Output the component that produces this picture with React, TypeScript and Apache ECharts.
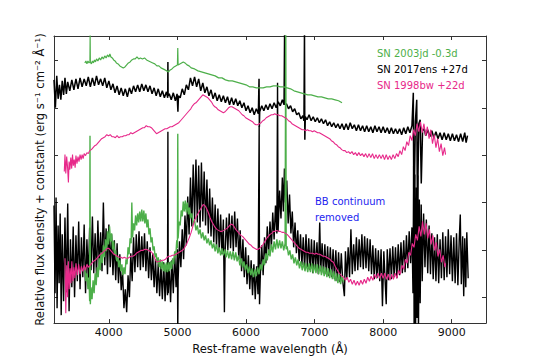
import React, { useEffect, useRef } from "react";
import * as echarts from "echarts";

// Wavelength (Å) and relative flux (arbitrary units + constant)
const greenTop: number[][] = [[3650,26.1],[3665,26.3],[3680,26.0],[3695,26.3],[3710,26.1],[3724,26.2],[3727,28.9],[3730,26.2],[3745,26.0],[3760,26.3],[3775,26.1],[3790,26.4],[3805,26.2],[3820,26.5],[3840,26.3],[3860,26.6],[3880,26.4],[3900,26.7],[3920,26.5],[3940,26.8],[3960,26.6],[3980,26.9],[4000,26.7],[4015,27.0],[4030,26.7],[4050,26.6],[4070,26.4],[4090,26.3],[4110,26.1],[4135,26.0],[4160,25.8],[4185,25.7],[4210,25.6],[4235,25.7],[4260,25.9],[4285,26.1],[4310,26.2],[4335,26.4],[4360,26.5],[4385,26.5],[4410,26.7],[4435,26.5],[4460,26.6],[4490,26.5],[4520,26.6],[4550,26.4],[4580,26.3],[4610,26.2],[4640,26.1],[4670,26.0],[4700,25.8],[4730,25.8],[4760,25.6],[4790,25.5],[4820,25.4],[4845,25.3],[4870,25.2],[4895,25.4],[4920,25.5],[4950,25.7],[4975,25.8],[5000,25.9],[5005,27.6],[5010,25.9],[5035,26.0],[5060,26.1],[5085,26.2],[5110,26.1],[5140,25.9],[5170,25.8],[5200,25.6],[5250,25.5],[5300,25.3],[5350,25.2],[5400,25.1],[5450,25.0],[5500,24.9],[5550,24.8],[5600,24.6],[5650,24.6],[5700,24.4],[5750,24.3],[5800,24.3],[5850,24.2],[5900,24.1],[5950,24.0],[6000,23.9],[6050,23.7],[6100,23.7],[6150,23.6],[6200,23.6],[6250,23.6],[6300,23.7],[6350,23.7],[6400,23.8],[6450,23.8],[6500,23.7],[6550,23.7],[6600,23.6],[6650,23.5],[6700,23.3],[6750,23.2],[6800,23.1],[6850,23.0],[6900,22.9],[6950,22.9],[7000,22.8],[7050,22.7],[7100,22.7],[7150,22.6],[7200,22.5],[7250,22.5],[7300,22.4],[7350,22.3],[7400,22.1]];

const blackTop: number[][] = [[3200,24.4],[3220,21.6],[3240,24.8],[3260,22.5],[3280,23.9],[3300,22.4],[3320,24.3],[3340,22.9],[3360,24.6],[3380,23.0],[3400,24.2],[3430,23.3],[3460,24.4],[3490,23.4],[3520,24.5],[3550,23.5],[3580,24.6],[3610,23.7],[3640,24.5],[3670,23.8],[3700,24.7],[3730,23.7],[3760,24.6],[3790,23.8],[3820,24.8],[3850,23.9],[3880,24.5],[3910,23.8],[3940,24.6],[3970,23.6],[4000,24.3],[4030,23.4],[4060,24.0],[4090,23.1],[4120,23.8],[4150,22.9],[4180,23.6],[4210,22.8],[4240,23.5],[4270,22.7],[4300,23.6],[4330,23.0],[4360,23.8],[4390,23.2],[4420,23.9],[4450,23.2],[4480,24.0],[4510,23.3],[4540,23.9],[4570,23.2],[4600,23.8],[4630,23.0],[4660,23.6],[4690,22.8],[4720,23.5],[4750,22.7],[4780,23.3],[4810,22.6],[4840,23.2],[4858,22.6],[4861,26.2],[4864,22.8],[4880,23.0],[4910,22.4],[4940,23.1],[4970,22.3],[4995,23.0],[5007,21.2],[5015,22.8],[5040,22.6],[5070,23.5],[5100,22.9],[5130,23.9],[5160,23.4],[5190,24.6],[5220,23.8],[5250,24.7],[5280,23.7],[5310,24.5],[5340,23.3],[5370,24.1],[5400,23.1],[5430,23.7],[5460,22.8],[5490,23.4],[5520,22.5],[5550,23.1],[5580,22.3],[5610,22.9],[5640,22.2],[5670,22.8],[5700,22.1],[5730,22.7],[5760,21.9],[5790,22.6],[5820,21.9],[5850,22.5],[5880,21.8],[5910,22.3],[5940,21.6],[5970,22.1],[6000,21.3],[6030,21.8],[6060,21.1],[6090,21.6],[6120,20.9],[6150,21.5],[6180,21.0],[6190,24.5],[6195,19.7],[6200,21.2],[6230,21.8],[6260,21.3],[6290,21.9],[6320,21.4],[6350,22.0],[6380,21.5],[6410,22.1],[6440,21.6],[6470,22.2],[6500,21.8],[6530,22.4],[6555,21.9],[6563,29.5],[6570,21.9],[6590,22.0],[6620,21.5],[6650,21.8],[6680,21.2],[6710,21.5],[6740,20.9],[6770,21.1],[6800,20.5],[6830,20.8],[6845,20.3],[6853,29.5],[6858,18.4],[6865,20.7],[6890,20.4],[6920,20.9],[6950,20.3],[6980,20.7],[7010,20.2],[7040,20.6],[7070,20.1],[7100,20.5],[7130,20.0],[7160,20.4],[7190,19.8],[7220,20.2],[7250,19.7],[7280,20.1],[7310,19.6],[7340,20.0],[7370,19.5],[7400,20.0],[7430,19.4],[7460,20.0],[7490,19.4],[7520,20.1],[7550,19.5],[7580,19.9],[7610,19.3],[7640,19.9],[7670,19.3],[7700,19.8],[7730,19.2],[7760,19.8],[7790,19.2],[7820,19.7],[7850,19.1],[7880,19.8],[7910,19.2],[7940,19.7],[7970,19.1],[8000,19.7],[8030,19.1],[8060,19.6],[8090,19.0],[8120,19.6],[8150,19.0],[8180,19.5],[8210,19.0],[8240,19.5],[8270,18.9],[8300,19.6],[8330,19.0],[8360,19.7],[8390,19.1],[8420,19.8],[8440,23.1],[8448,10.0],[8470,20.2],[8490,22.4],[8500,11.0],[8520,20.0],[8540,20.4],[8556,14.0],[8575,19.3],[8600,19.5],[8620,18.8],[8650,19.4],[8680,18.7],[8710,19.3],[8740,18.6],[8770,19.2],[8800,18.5],[8830,19.1],[8860,18.4],[8890,19.1],[8920,18.4],[8950,19.0],[8980,18.3],[9010,19.0],[9040,18.3],[9070,18.9],[9100,18.2],[9130,19.0],[9160,18.2],[9190,19.1],[9210,18.1],[9230,18.8]];

const pinkTop: number[][] = [[3350,15.2],[3360,16.9],[3372,15.0],[3385,16.7],[3398,15.6],[3410,14.1],[3420,16.2],[3432,15.4],[3445,16.6],[3458,15.5],[3470,16.9],[3482,15.8],[3495,16.4],[3508,15.6],[3520,16.8],[3535,16.0],[3550,16.7],[3565,16.2],[3580,16.9],[3595,16.4],[3610,16.9],[3625,16.5],[3640,17.0],[3660,16.8],[3680,17.1],[3700,17.0],[3720,17.3],[3745,17.4],[3770,17.6],[3795,17.8],[3820,17.9],[3845,18.1],[3870,18.3],[3895,18.5],[3920,18.6],[3945,18.7],[3970,18.9],[3995,18.8],[4020,18.9],[4045,18.7],[4070,18.7],[4095,18.6],[4120,18.8],[4145,18.6],[4170,18.7],[4195,18.7],[4220,18.8],[4245,18.8],[4270,18.9],[4295,18.9],[4320,19.1],[4345,19.0],[4370,19.1],[4395,19.2],[4420,19.3],[4445,19.4],[4470,19.5],[4495,19.6],[4520,19.6],[4545,19.8],[4570,19.7],[4595,19.7],[4620,19.6],[4645,19.4],[4670,19.2],[4695,19.0],[4720,19.1],[4745,19.2],[4770,19.3],[4795,19.4],[4820,19.5],[4845,19.5],[4870,19.6],[4895,19.7],[4920,19.7],[4945,19.8],[4970,19.9],[4995,20.0],[5020,20.1],[5045,20.3],[5070,20.5],[5095,20.7],[5120,20.9],[5145,21.1],[5170,21.3],[5195,21.5],[5220,21.8],[5245,22.0],[5270,22.1],[5295,22.3],[5320,22.5],[5345,22.7],[5370,22.9],[5395,22.8],[5420,22.7],[5445,22.6],[5470,22.4],[5495,22.2],[5520,21.9],[5545,21.7],[5570,21.6],[5595,21.4],[5620,21.3],[5645,21.2],[5670,21.1],[5695,21.2],[5720,21.4],[5745,21.6],[5770,21.7],[5795,21.7],[5820,21.6],[5845,21.5],[5870,21.4],[5895,21.3],[5920,21.1],[5945,20.9],[5970,20.8],[5995,20.6],[6020,20.5],[6045,20.4],[6070,20.3],[6095,20.2],[6120,20.0],[6145,19.9],[6170,19.9],[6195,20.0],[6220,20.1],[6245,20.3],[6270,20.4],[6295,20.6],[6320,20.7],[6345,20.8],[6370,20.9],[6395,20.9],[6420,21.0],[6445,20.9],[6470,20.9],[6495,20.8],[6520,20.8],[6545,20.7],[6570,20.6],[6595,20.5],[6620,20.3],[6645,20.2],[6670,20.0],[6695,19.9],[6720,19.8],[6745,19.7],[6770,19.6],[6795,19.5],[6820,19.4],[6845,19.4],[6870,19.3],[6895,19.4],[6920,19.3],[6945,19.3],[6970,19.2],[6995,19.3],[7020,19.2],[7045,19.1],[7070,19.1],[7095,19.0],[7120,18.9],[7145,18.8],[7170,18.7],[7195,18.6],[7220,18.5],[7245,18.3],[7270,18.2],[7295,18.0],[7320,17.9],[7345,17.7],[7370,17.6],[7395,17.4],[7420,17.3],[7445,17.3],[7470,17.1],[7495,17.2],[7520,17.0],[7545,17.2],[7570,16.9],[7595,17.1],[7620,16.8],[7645,17.1],[7670,16.8],[7695,17.0],[7720,16.7],[7745,17.0],[7770,16.6],[7795,17.0],[7820,16.6],[7845,17.0],[7870,16.5],[7895,16.9],[7920,16.5],[7945,16.9],[7970,16.5],[7995,16.9],[8020,16.4],[8045,16.9],[8070,16.4],[8095,16.8],[8120,16.4],[8145,16.9],[8170,16.5],[8195,17.0],[8220,16.7],[8245,17.3],[8270,16.9],[8295,17.7],[8320,17.3],[8345,18.2],[8370,17.8],[8395,18.8],[8420,18.3],[8445,19.4],[8470,18.8],[8495,20.0],[8520,19.2],[8545,20.2],[8570,19.1],[8595,20.0],[8620,18.8],[8645,19.7],[8670,18.5],[8695,19.4],[8720,18.0],[8745,18.9],[8770,17.6],[8795,18.5],[8820,17.2],[8845,18.0],[8870,16.8],[8895,17.6],[8910,16.9]];

const blackBottom: number[][] = [[3200,11.8],[3215,3.0],[3230,12.6],[3245,1.5],[3260,9.8],[3275,4.0],[3290,11.0],[3305,0.8],[3320,8.9],[3340,2.2],[3360,10.6],[3380,3.1],[3400,12.0],[3420,1.2],[3440,8.4],[3460,3.6],[3480,9.7],[3500,2.6],[3520,8.8],[3540,4.2],[3560,10.2],[3580,3.4],[3600,8.6],[3620,4.6],[3640,9.9],[3660,3.0],[3680,8.4],[3700,4.5],[3720,9.6],[3740,5.3],[3760,10.7],[3780,5.0],[3800,9.0],[3820,4.6],[3840,10.3],[3860,5.6],[3880,9.1],[3900,5.2],[3920,12.1],[3940,5.8],[3960,9.5],[3980,4.9],[4000,9.9],[4020,5.6],[4040,8.9],[4060,4.8],[4080,8.3],[4100,4.3],[4120,8.0],[4140,4.0],[4160,6.9],[4180,3.3],[4200,5.2],[4220,1.5],[4240,3.4],[4260,1.1],[4280,4.8],[4300,2.6],[4320,7.0],[4340,4.2],[4360,8.6],[4380,5.1],[4400,8.9],[4420,5.6],[4440,9.2],[4460,5.3],[4480,8.7],[4500,5.6],[4520,9.0],[4540,5.2],[4560,8.2],[4580,4.5],[4600,7.6],[4620,4.3],[4640,7.0],[4660,3.6],[4680,6.4],[4700,3.0],[4720,6.0],[4740,2.7],[4760,5.8],[4780,2.4],[4800,6.1],[4820,2.2],[4840,5.9],[4855,2.8],[4861,19.2],[4866,3.0],[4880,6.1],[4900,2.1],[4920,6.3],[4940,3.0],[4960,7.0],[4980,3.6],[5000,7.4],[5005,-1],[5010,4.3],[5030,8.2],[5050,5.6],[5070,9.4],[5090,6.4],[5110,10.8],[5130,7.8],[5150,12.7],[5170,8.9],[5190,14.6],[5210,9.7],[5230,15.9],[5250,10.4],[5270,16.4],[5290,10.1],[5310,15.8],[5330,9.6],[5350,16.1],[5370,10.2],[5390,15.2],[5410,9.8],[5430,14.4],[5450,9.0],[5470,13.5],[5490,8.7],[5510,12.6],[5530,8.1],[5550,11.9],[5570,7.6],[5590,11.5],[5610,7.2],[5630,10.9],[5650,6.9],[5670,10.4],[5685,1.1],[5695,7.0],[5715,10.6],[5735,7.3],[5755,11.0],[5775,7.5],[5795,10.8],[5815,7.2],[5835,11.2],[5855,7.6],[5875,10.5],[5895,6.4],[5915,9.3],[5935,5.2],[5955,8.4],[5975,4.6],[5995,7.6],[6015,3.9],[6035,6.8],[6055,3.4],[6075,6.3],[6095,2.8],[6115,5.9],[6135,2.4],[6155,5.7],[6175,2.9],[6192,19.8],[6197,1.9],[6210,5.0],[6230,7.8],[6250,4.8],[6270,8.6],[6290,6.0],[6310,9.7],[6330,6.8],[6350,10.2],[6370,7.5],[6390,11.1],[6410,8.4],[6430,11.8],[6450,9.0],[6460,24.1],[6468,9.2],[6490,13.3],[6510,10.5],[6530,14.6],[6545,11.2],[6560,15.5],[6575,12.1],[6595,14.3],[6615,10.0],[6635,12.9],[6655,9.0],[6675,11.2],[6695,7.6],[6715,10.1],[6735,7.0],[6755,9.3],[6775,6.2],[6795,8.9],[6815,5.8],[6835,8.6],[6855,5.5],[6875,8.9],[6895,5.6],[6915,8.5],[6935,5.3],[6955,8.4],[6975,5.0],[6995,8.3],[7015,5.4],[7035,8.1],[7055,4.9],[7075,10.1],[7090,5.2],[7110,8.0],[7130,5.0],[7150,7.9],[7170,4.9],[7190,7.7],[7210,4.7],[7230,7.6],[7250,4.6],[7270,7.4],[7290,4.4],[7310,7.3],[7330,4.2],[7350,7.1],[7370,4.1],[7390,7.0],[7410,4.3],[7435,2.7],[7450,7.2],[7470,4.4],[7490,7.6],[7510,4.6],[7530,9.4],[7550,4.9],[7570,7.9],[7590,5.2],[7610,8.6],[7630,5.3],[7650,8.4],[7670,5.6],[7690,8.9],[7710,5.4],[7730,8.7],[7750,5.5],[7770,8.5],[7790,5.2],[7810,8.4],[7830,4.9],[7850,7.8],[7870,4.4],[7890,7.5],[7910,4.5],[7930,7.3],[7950,4.2],[7970,7.4],[7990,1.7],[8010,7.2],[8030,4.1],[8045,1.9],[8060,7.4],[8080,4.3],[8100,7.5],[8120,4.4],[8140,7.7],[8160,4.6],[8180,7.6],[8200,4.5],[8220,7.9],[8240,4.8],[8260,8.1],[8280,5.0],[8300,8.3],[8320,5.1],[8340,8.8],[8360,5.5],[8380,9.2],[8400,6.0],[8420,9.6],[8435,3.0],[8445,15.8],[8452,-2],[8462,14.9],[8472,-2],[8485,13.6],[8495,0.5],[8505,14.8],[8515,-1],[8528,12.4],[8540,2.0],[8555,11.9],[8570,4.2],[8590,11.0],[8610,5.6],[8630,10.4],[8650,5.0],[8670,9.8],[8690,4.9],[8710,9.0],[8730,4.4],[8750,8.6],[8770,4.2],[8790,8.9],[8810,4.0],[8830,8.4],[8850,4.5],[8870,9.1],[8890,4.3],[8910,8.7],[8930,4.6],[8950,9.4],[8970,4.9],[8990,8.8],[9010,4.2],[9030,8.6],[9050,4.0],[9070,9.0],[9090,3.8],[9110,8.4],[9125,10.9],[9140,3.9],[9160,8.7],[9175,2.7],[9190,8.5],[9205,3.6],[9220,9.1],[9240,4.5]];

const greenBottom: number[][] = [[3650,5.6],[3665,4.2],[3680,5.0],[3695,3.4],[3710,4.6],[3720,2.2],[3725,18.8],[3730,1.9],[3740,3.6],[3755,2.4],[3770,4.3],[3785,3.0],[3800,5.0],[3815,3.8],[3830,5.6],[3845,4.6],[3860,6.5],[3875,5.3],[3890,7.1],[3905,6.0],[3920,7.8],[3935,6.6],[3950,8.4],[3965,7.2],[3980,9.2],[3995,7.9],[4010,9.7],[4025,8.2],[4040,9.0],[4055,7.4],[4070,8.2],[4085,6.9],[4100,7.3],[4115,6.2],[4130,6.6],[4145,5.6],[4160,6.3],[4175,5.2],[4190,5.9],[4205,4.8],[4220,5.6],[4235,4.9],[4250,6.4],[4265,5.9],[4280,7.6],[4295,6.9],[4310,8.5],[4325,8.0],[4335,12.1],[4345,8.6],[4360,10.0],[4375,9.3],[4390,10.8],[4405,9.8],[4420,11.0],[4435,10.1],[4450,11.2],[4465,10.2],[4480,11.4],[4495,10.2],[4510,11.3],[4525,10.0],[4540,11.0],[4555,9.6],[4570,10.4],[4585,8.9],[4600,9.5],[4615,8.1],[4630,8.6],[4645,7.3],[4660,7.7],[4675,6.6],[4690,7.0],[4705,6.0],[4720,6.6],[4735,5.6],[4750,6.4],[4765,5.4],[4780,6.2],[4795,5.2],[4810,6.0],[4825,5.1],[4840,6.1],[4855,5.1],[4870,6.1],[4885,5.2],[4900,6.2],[4915,5.4],[4930,6.5],[4945,5.9],[4960,7.2],[4975,6.6],[4990,8.3],[5000,7.5],[5005,19.0],[5010,8.5],[5025,10.2],[5040,9.8],[5055,11.3],[5070,10.7],[5085,12.2],[5100,11.2],[5115,12.3],[5130,11.1],[5145,12.1],[5160,10.9],[5175,11.6],[5190,10.5],[5210,11.0],[5230,10.0],[5250,10.3],[5270,9.3],[5290,9.8],[5310,8.9],[5330,9.4],[5350,8.5],[5370,9.1],[5390,8.3],[5410,8.8],[5430,8.0],[5450,8.5],[5470,7.8],[5490,8.3],[5510,7.5],[5530,8.0],[5550,7.2],[5570,7.9],[5590,7.0],[5610,7.6],[5630,6.8],[5650,7.5],[5670,6.8],[5690,7.4],[5710,6.6],[5730,7.3],[5750,6.5],[5770,7.2],[5790,6.4],[5810,7.2],[5830,6.3],[5850,7.1],[5870,6.2],[5890,6.8],[5910,5.8],[5930,6.5],[5950,5.6],[5970,6.2],[5990,5.3],[6010,5.9],[6030,5.0],[6050,5.7],[6070,4.8],[6090,5.5],[6110,4.6],[6130,5.4],[6150,4.7],[6170,5.6],[6190,4.9],[6210,5.9],[6230,5.3],[6250,6.4],[6270,5.8],[6290,7.0],[6310,6.3],[6330,7.4],[6350,6.7],[6370,7.9],[6390,7.1],[6410,8.2],[6430,7.4],[6450,8.4],[6470,7.5],[6490,8.3],[6510,7.5],[6530,8.2],[6550,7.3],[6570,8.0],[6580,30],[6586,7.4],[6600,7.7],[6620,6.8],[6640,7.3],[6660,6.4],[6680,6.9],[6700,6.0],[6720,6.6],[6740,5.8],[6760,6.4],[6780,5.5],[6800,6.2],[6820,5.3],[6840,6.1],[6860,5.2],[6880,6.0],[6900,5.1],[6920,6.0],[6940,5.1],[6960,6.0],[6980,5.0],[7000,5.9],[7020,5.0],[7040,5.9],[7060,4.9],[7080,5.8],[7100,4.8],[7120,5.7],[7140,4.7],[7160,5.6],[7180,4.6],[7200,5.5],[7220,4.5],[7240,5.4],[7260,4.4],[7280,5.2],[7300,4.2],[7320,5.0],[7340,4.0],[7360,4.9],[7380,3.9],[7400,4.7],[7420,4.1]];

const pinkBottom: number[][] = [[3360,6.5],[3372,1.0],[3385,5.8],[3398,2.6],[3410,6.2],[3422,3.4],[3435,5.5],[3448,4.0],[3460,6.2],[3475,4.2],[3490,5.6],[3505,4.5],[3520,6.0],[3540,4.8],[3560,5.9],[3580,4.9],[3600,5.7],[3620,5.2],[3640,5.8],[3660,5.3],[3680,5.9],[3700,5.6],[3725,5.8],[3750,6.0],[3775,6.2],[3800,6.3],[3825,6.5],[3850,6.7],[3875,6.9],[3900,7.0],[3925,7.2],[3950,7.3],[3975,7.5],[4000,7.5],[4025,7.3],[4050,7.1],[4075,6.9],[4100,6.8],[4125,6.7],[4150,6.6],[4175,6.6],[4200,6.5],[4225,6.6],[4250,6.5],[4275,6.5],[4300,6.6],[4325,6.7],[4350,6.7],[4375,6.8],[4400,7.0],[4425,7.1],[4450,7.2],[4475,7.3],[4500,7.3],[4525,7.4],[4550,7.4],[4575,7.3],[4600,7.2],[4625,7.1],[4650,6.8],[4675,6.4],[4700,6.1],[4725,6.2],[4750,6.2],[4775,6.3],[4800,6.3],[4825,6.4],[4850,6.6],[4875,6.7],[4900,6.7],[4925,6.8],[4950,6.8],[4975,6.9],[5000,7.0],[5025,7.1],[5050,7.2],[5075,7.3],[5100,7.5],[5125,7.8],[5150,8.2],[5175,8.6],[5200,9.1],[5225,9.7],[5250,10.3],[5275,10.7],[5300,11.0],[5325,11.3],[5350,11.6],[5375,11.9],[5400,11.8],[5425,11.5],[5450,11.1],[5475,10.6],[5500,10.2],[5525,9.9],[5550,9.6],[5575,9.4],[5600,9.3],[5625,9.2],[5650,9.2],[5675,9.3],[5700,9.4],[5725,9.5],[5750,9.7],[5775,9.9],[5800,9.9],[5825,9.7],[5850,9.4],[5875,9.2],[5900,9.0],[5925,8.8],[5950,8.7],[5975,8.5],[6000,8.3],[6025,8.1],[6050,7.9],[6075,7.8],[6100,7.6],[6125,7.5],[6150,7.4],[6175,7.4],[6200,7.5],[6225,7.7],[6250,7.9],[6275,8.2],[6300,8.5],[6325,8.7],[6350,8.9],[6375,9.0],[6400,9.2],[6425,9.2],[6450,9.3],[6475,9.2],[6500,9.2],[6525,9.1],[6550,9.1],[6575,9.0],[6600,8.9],[6625,8.7],[6650,8.5],[6675,8.3],[6700,8.1],[6725,7.9],[6750,7.7],[6775,7.5],[6800,7.4],[6825,7.3],[6850,7.2],[6875,7.1],[6900,7.1],[6925,7.0],[6950,7.0],[6975,7.0],[7000,6.9],[7025,7.0],[7050,6.9],[7075,6.9],[7100,6.8],[7125,6.7],[7150,6.7],[7175,6.6],[7200,6.5],[7225,6.4],[7250,6.2],[7275,6.1],[7300,5.7],[7325,5.4],[7350,5.1],[7375,4.9],[7400,4.7],[7425,4.6],[7450,4.3],[7475,4.6],[7500,4.1],[7525,4.4],[7550,3.9],[7575,4.3],[7600,3.8],[7625,4.2],[7650,3.8],[7675,4.3],[7700,3.9],[7725,4.4],[7750,4.0],[7775,4.6],[7800,4.2],[7825,4.7],[7850,4.3],[7875,4.9],[7900,4.5],[7925,5.0],[7950,4.5],[7975,5.0],[8000,4.5],[8025,5.0],[8050,4.4],[8075,4.9],[8100,4.3],[8125,4.9],[8150,4.4],[8175,5.0],[8200,4.5],[8225,5.3],[8250,4.9],[8275,5.8],[8300,5.4],[8325,6.4],[8350,6.0],[8375,7.1],[8400,6.8],[8425,8.0],[8450,7.6],[8475,8.9],[8500,8.3],[8525,9.7],[8550,8.7],[8575,10.2],[8600,8.9],[8625,10.0],[8650,8.5],[8675,9.4],[8700,7.9],[8725,8.8],[8750,7.3],[8775,8.1],[8800,6.7],[8825,7.4],[8850,6.1],[8875,6.8],[8900,5.6],[8910,6.0]];

const xTicks = [4000, 5000, 6000, 7000, 8000, 9000];
const yTicks = [2.58, 7.33, 12.08, 16.83, 21.58, 26.33];
const xRange = [3200, 9500];
const yRange = [0, 28.8];

const legendNames = ["SN 2003jd -0.3d", "SN 2017ens +27d", "SN 1998bw +22d"];
const noteLines = ["BB continuum", "removed"];
const xTitle = "Rest-frame wavelength (Å)";
const yTitle = "Relative flux density + constant (erg s\u207B\u00B9 cm\u207B\u00B2 Å\u207B\u00B9)";

const GREEN = "#4daf4a";
const BLACK = "#000000";
const PINK = "#e7298a";
const BLUE = "#2424f0";
const FONT = '"DejaVu Sans", sans-serif';

export default function App() {
  const ref = useRef<HTMLDivElement>(null);
  useEffect(() => {
    document.body.style.margin = "0";
    if (!ref.current) return;
    const chart = echarts.init(ref.current, undefined, { renderer: "svg" });
    const frame = { lineStyle: { color: "#333", width: 1 } };
    const tick = (vals: number[]) => ({
      show: true, inside: true, length: 4, customValues: vals,
      lineStyle: { color: "#333", width: 1 },
    });
    const mk = (data: number[][], color: string, z: number, width: number) => ({
      type: "line", data, showSymbol: false, symbol: "none", clip: true,
      lineStyle: { color, width }, z, silent: true,
      xAxisIndex: 0, yAxisIndex: 0,
    });
    chart.setOption({
      animation: false,
      grid: { left: 54, right: 54, top: 36, bottom: 36, containLabel: false },
      xAxis: [
        {
          type: "value", min: xRange[0], max: xRange[1], position: "bottom",
          axisLine: { show: true, onZero: false, ...frame },
          axisTick: tick(xTicks),
          axisLabel: { show: true, customValues: xTicks, margin: 4, fontSize: 11, color: "#111", fontFamily: FONT, formatter: (v: number) => String(v) },
          splitLine: { show: false },
          name: xTitle, nameLocation: "middle", nameGap: 18,
          nameTextStyle: { fontSize: 11.6, color: "#111", fontFamily: FONT },
        },
        {
          type: "value", min: xRange[0], max: xRange[1], position: "top",
          axisLine: { show: true, onZero: false, ...frame },
          axisTick: tick(xTicks), axisLabel: { show: false }, splitLine: { show: false },
        },
      ],
      yAxis: [
        {
          type: "value", min: yRange[0], max: yRange[1], position: "left",
          axisLine: { show: true, onZero: false, ...frame },
          axisTick: tick(yTicks), axisLabel: { show: false }, splitLine: { show: false },
          name: yTitle, nameLocation: "middle", nameGap: 8, nameRotate: 90,
          nameTextStyle: { fontSize: 11.6, color: "#111", fontFamily: FONT },
        },
        {
          type: "value", min: yRange[0], max: yRange[1], position: "right",
          axisLine: { show: true, onZero: false, ...frame },
          axisTick: tick(yTicks), axisLabel: { show: false }, splitLine: { show: false },
        },
      ],
      series: [
        mk(blackBottom, BLACK, 2, 1.4),
        mk(greenBottom, GREEN, 3, 1.4),
        mk(pinkBottom, PINK, 4, 1.1),
        mk(greenTop, GREEN, 3, 1.2),
        mk(blackTop, BLACK, 2, 1.5),
        mk(pinkTop, PINK, 4, 1.1),
      ],
      graphic: [
        ...legendNames.map((t, i) => ({
          type: "text", x: 377, y: 53 + i * 16, z: 10,
          style: { text: t, fill: [GREEN, BLACK, PINK][i], fontSize: 10, fontFamily: FONT, verticalAlign: "middle", align: "left" },
        })),
        ...noteLines.map((t, i) => ({
          type: "text", x: 315, y: 201 + i * 16.5, z: 10,
          style: { text: t, fill: BLUE, fontSize: 10, fontFamily: FONT, verticalAlign: "middle", align: "left" },
        })),
      ],
    });
    return () => chart.dispose();
  }, []);
  return <div ref={ref} style={{ width: 540, height: 360 }} />;
}
